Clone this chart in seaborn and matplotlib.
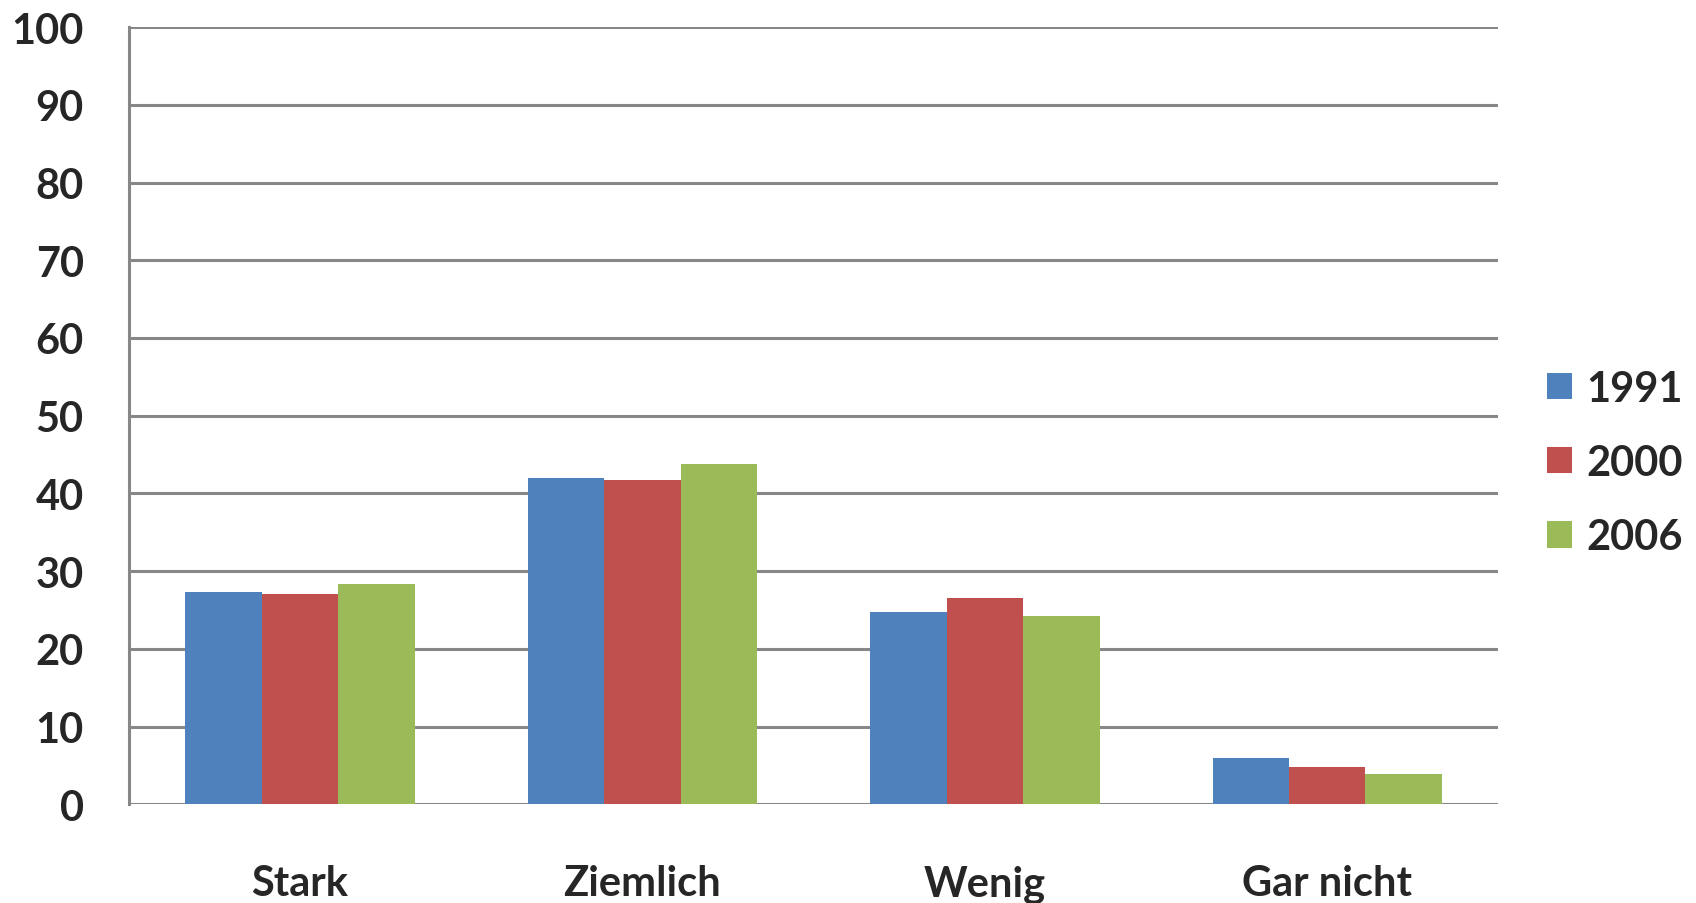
import matplotlib
matplotlib.use("Agg")
import matplotlib.pyplot as plt
import seaborn as sns
import pandas as pd
from matplotlib.patches import Patch

categories = ["Stark", "Ziemlich", "Wenig", "Gar nicht"]
years = ["1991", "2000", "2006"]
values_1991 = [27.3, 42.0, 24.8, 6.0]
values_2000 = [27.1, 41.7, 26.6, 4.8]
values_2006 = [28.4, 43.8, 24.3, 3.9]
colors = ["#4F81BD", "#C0504D", "#9BBB59"]

df = pd.DataFrame({
    "cat": categories * 3,
    "year": [y for y in years for _ in categories],
    "val": values_1991 + values_2000 + values_2006,
})

sns.set_style("white")
plt.rcParams["font.family"] = ["Lato", "DejaVu Sans"]

FS = 30
fig = plt.figure(figsize=(16.96, 9.04), dpi=100)
ax = fig.add_axes([0.076, 0.109, 0.8075, 0.860])

sns.barplot(data=df, x="cat", y="val", hue="year", order=categories,
            hue_order=years, palette=colors, width=0.67, ax=ax,
            saturation=1, legend=False, linewidth=0, errorbar=None)

grid_c = "#878787"
ax.set_ylim(0, 100)
ax.set_xlim(-0.5, 3.5)
ax.set_yticks(range(0, 101, 10))
ax.yaxis.grid(True, color=grid_c, linewidth=2.2)
ax.set_axisbelow(True)
for s in ["top", "right", "bottom"]:
    ax.spines[s].set_visible(False)
ax.spines["left"].set_color(grid_c)
ax.spines["left"].set_linewidth(2.2)
ax.tick_params(axis="y", length=12.5, width=2.2, color=grid_c, labelsize=FS, pad=20)
ax.set_xticks(range(4))
ax.set_xticks([-0.5, 0.5, 1.5, 2.5, 3.5], minor=True)
ax.tick_params(axis="x", which="major", length=0, labelsize=FS, pad=43)
ax.tick_params(axis="x", which="minor", length=11, width=2.2, color=grid_c)
ax.set_xlabel("")
ax.set_ylabel("")
for lab in ax.get_xticklabels() + ax.get_yticklabels():
    lab.set_fontweight("bold")

handles = [Patch(facecolor=c, edgecolor="none", label=y) for c, y in zip(colors, years)]
leg = fig.legend(handles=handles, loc="center left", bbox_to_anchor=(0.912, 0.487),
                 frameon=False, fontsize=FS, handlelength=0.6, handleheight=0.6,
                 handletextpad=0.35, labelspacing=0.87, borderaxespad=0, borderpad=0)
for t in leg.get_texts():
    t.set_fontweight("bold")

fig.savefig("out.png", dpi=100)
